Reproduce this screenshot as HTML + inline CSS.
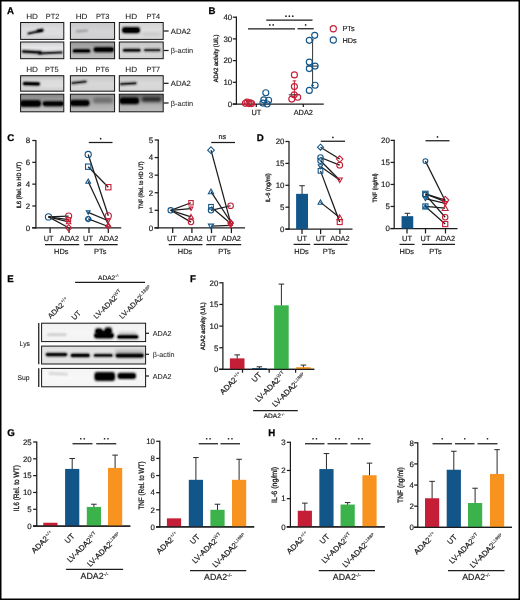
<!DOCTYPE html>
<html>
<head>
<meta charset="utf-8">
<title>Figure</title>
<style>
html, body { margin: 0; padding: 0; background: #ffffff; }
body { width: 520px; height: 600px; overflow: hidden; font-family: "Liberation Sans", sans-serif; }
svg { display: block; will-change: transform; opacity: 0.999; }
text { text-rendering: geometricPrecision; }
</style>
</head>
<body>
<svg width="520" height="600" viewBox="0 0 520 600" font-family="Liberation Sans, sans-serif">
<defs>
<filter id="b0" x="-30%" y="-200%" width="160%" height="500%"><feGaussianBlur stdDeviation="0.6"/></filter>
<filter id="b1" x="-30%" y="-200%" width="160%" height="500%"><feGaussianBlur stdDeviation="1.0"/></filter>
<filter id="b2" x="-30%" y="-200%" width="160%" height="500%"><feGaussianBlur stdDeviation="1.5"/></filter>
<filter id="b3" x="-30%" y="-200%" width="160%" height="500%"><feGaussianBlur stdDeviation="2.2"/></filter>
</defs>
<rect x="0" y="0" width="520" height="600" fill="#ffffff"/>
<text transform="translate(7,14.4)" font-size="9.7" text-anchor="start" font-weight="bold" fill="#000"  stroke="#000" stroke-width="0.25">A</text>
<text transform="translate(26.2,19.2)" font-size="7.6" text-anchor="start" font-weight="normal" fill="#1c1c1c"  textLength="11.8" lengthAdjust="spacingAndGlyphs" stroke="#1c1c1c" stroke-width="0.08">HD</text>
<text transform="translate(45.8,19.2)" font-size="7.6" text-anchor="start" font-weight="normal" fill="#1c1c1c"  textLength="13.5" lengthAdjust="spacingAndGlyphs" stroke="#1c1c1c" stroke-width="0.08">PT2</text>
<text transform="translate(75.7,19.2)" font-size="7.6" text-anchor="start" font-weight="normal" fill="#1c1c1c"  textLength="11.8" lengthAdjust="spacingAndGlyphs" stroke="#1c1c1c" stroke-width="0.08">HD</text>
<text transform="translate(95.9,19.2)" font-size="7.6" text-anchor="start" font-weight="normal" fill="#1c1c1c"  textLength="13.5" lengthAdjust="spacingAndGlyphs" stroke="#1c1c1c" stroke-width="0.08">PT3</text>
<text transform="translate(125.3,19.2)" font-size="7.6" text-anchor="start" font-weight="normal" fill="#1c1c1c"  textLength="11.8" lengthAdjust="spacingAndGlyphs" stroke="#1c1c1c" stroke-width="0.08">HD</text>
<text transform="translate(146.5,19.2)" font-size="7.6" text-anchor="start" font-weight="normal" fill="#1c1c1c"  textLength="13.5" lengthAdjust="spacingAndGlyphs" stroke="#1c1c1c" stroke-width="0.08">PT4</text>
<text transform="translate(26.2,71.9)" font-size="7.6" text-anchor="start" font-weight="normal" fill="#1c1c1c"  textLength="11.8" lengthAdjust="spacingAndGlyphs" stroke="#1c1c1c" stroke-width="0.08">HD</text>
<text transform="translate(45,71.9)" font-size="7.6" text-anchor="start" font-weight="normal" fill="#1c1c1c"  textLength="13.5" lengthAdjust="spacingAndGlyphs" stroke="#1c1c1c" stroke-width="0.08">PT5</text>
<text transform="translate(75.7,71.9)" font-size="7.6" text-anchor="start" font-weight="normal" fill="#1c1c1c"  textLength="11.8" lengthAdjust="spacingAndGlyphs" stroke="#1c1c1c" stroke-width="0.08">HD</text>
<text transform="translate(95.5,71.9)" font-size="7.6" text-anchor="start" font-weight="normal" fill="#1c1c1c"  textLength="13.5" lengthAdjust="spacingAndGlyphs" stroke="#1c1c1c" stroke-width="0.08">PT6</text>
<text transform="translate(125.3,71.9)" font-size="7.6" text-anchor="start" font-weight="normal" fill="#1c1c1c"  textLength="11.8" lengthAdjust="spacingAndGlyphs" stroke="#1c1c1c" stroke-width="0.08">HD</text>
<text transform="translate(146.5,71.9)" font-size="7.6" text-anchor="start" font-weight="normal" fill="#1c1c1c"  textLength="13.5" lengthAdjust="spacingAndGlyphs" stroke="#1c1c1c" stroke-width="0.08">PT7</text>
<clipPath id="c1"><rect x="20.6" y="22.5" width="43.2" height="16.9"/></clipPath>
<linearGradient id="g1" x1="0" y1="0" x2="0" y2="1"><stop offset="0" stop-color="#cfcfd2"/><stop offset="0.33" stop-color="#dcdcde"/><stop offset="0.67" stop-color="#dedee0"/><stop offset="1" stop-color="#d2d2d4"/></linearGradient>
<rect x="20.6" y="22.5" width="43.2" height="16.9" fill="url(#g1)"/>
<g clip-path="url(#c1)">
<rect x="27" y="31.1" width="16.5" height="2" rx="1" fill="#000" opacity="0.85" filter="url(#b1)" transform="rotate(-12.31 35.25 32.1)"/>
<rect x="27.8" y="31.55" width="14.9" height="1.1" rx="0.55" fill="#000" opacity="0.68" filter="url(#b0)" transform="rotate(-12.31 35.25 32.1)"/>
<rect x="36.5" y="29.35" width="7.1" height="2.3" rx="1.15" fill="#000" opacity="0.9" filter="url(#b1)" transform="rotate(-9.59 40.05 30.5)"/>
<rect x="37.3" y="29.87" width="5.5" height="1.26" rx="0.63" fill="#000" opacity="0.72" filter="url(#b0)" transform="rotate(-9.59 40.05 30.5)"/>
</g>
<rect x="20.6" y="22.5" width="43.2" height="16.9" fill="none" stroke="#151515" stroke-width="1.0"/>
<clipPath id="c2"><rect x="70.4" y="22.5" width="44.2" height="16.9"/></clipPath>
<linearGradient id="g2" x1="0" y1="0" x2="0" y2="1"><stop offset="0" stop-color="#c8c8ca"/><stop offset="0.5" stop-color="#d4d4d6"/><stop offset="1" stop-color="#d0d0d2"/></linearGradient>
<rect x="70.4" y="22.5" width="44.2" height="16.9" fill="url(#g2)"/>
<g clip-path="url(#c2)">
<rect x="75.5" y="29.9" width="12.5" height="2" rx="1" fill="#000" opacity="0.3" filter="url(#b1)" transform="rotate(-4.57 81.75 30.9)"/>
</g>
<rect x="70.4" y="22.5" width="44.2" height="16.9" fill="none" stroke="#151515" stroke-width="1.0"/>
<clipPath id="c3"><rect x="119.3" y="22.5" width="43.9" height="16.9"/></clipPath>
<linearGradient id="g3" x1="0" y1="0" x2="0" y2="1"><stop offset="0" stop-color="#d4d4d4"/><stop offset="0.5" stop-color="#e0e0e0"/><stop offset="1" stop-color="#d6d6d6"/></linearGradient>
<rect x="119.3" y="22.5" width="43.9" height="16.9" fill="url(#g3)"/>
<g clip-path="url(#c3)">
<rect x="122" y="27.1" width="18" height="6.2" rx="2.4" fill="#000" opacity="1" filter="url(#b1)" transform="rotate(0 131 30.2)"/>
<rect x="122.8" y="28.49" width="16.4" height="3.41" rx="1.71" fill="#000" opacity="0.8" filter="url(#b0)" transform="rotate(0 131 30.2)"/>
<rect x="124" y="28.2" width="15" height="4" rx="2" fill="#000" opacity="1" filter="url(#b0)" transform="rotate(0 131.5 30.2)"/>
<rect x="142" y="31.8" width="19" height="4" rx="2" fill="#000" opacity="0.08" filter="url(#b2)" transform="rotate(0 151.5 33.8)"/>
</g>
<rect x="119.3" y="22.5" width="43.9" height="16.9" fill="none" stroke="#151515" stroke-width="1.0"/>
<clipPath id="c4"><rect x="20.6" y="42" width="43.2" height="16.7"/></clipPath>
<linearGradient id="g4" x1="0" y1="0" x2="0" y2="1"><stop offset="0" stop-color="#d0d0d2"/><stop offset="0.33" stop-color="#e6e6e8"/><stop offset="0.67" stop-color="#e4e4e6"/><stop offset="1" stop-color="#cacacc"/></linearGradient>
<rect x="20.6" y="42" width="43.2" height="16.7" fill="url(#g4)"/>
<g clip-path="url(#c4)">
<rect x="21.5" y="50.5" width="20.5" height="3" rx="1.5" fill="#000" opacity="0.9" filter="url(#b1)" transform="rotate(3.35 31.75 52)"/>
<rect x="22.3" y="51.17" width="18.9" height="1.65" rx="0.83" fill="#000" opacity="0.72" filter="url(#b0)" transform="rotate(3.35 31.75 52)"/>
<rect x="38" y="51.8" width="25" height="2.2" rx="1.1" fill="#000" opacity="0.85" filter="url(#b1)" transform="rotate(-2.29 50.5 52.9)"/>
<rect x="38.8" y="52.3" width="23.4" height="1.21" rx="0.61" fill="#000" opacity="0.68" filter="url(#b0)" transform="rotate(-2.29 50.5 52.9)"/>
</g>
<rect x="20.6" y="42" width="43.2" height="16.7" fill="none" stroke="#151515" stroke-width="1.0"/>
<clipPath id="c5"><rect x="70.4" y="42" width="44.2" height="16.7"/></clipPath>
<linearGradient id="g5" x1="0" y1="0" x2="0" y2="1"><stop offset="0" stop-color="#989898"/><stop offset="0.5" stop-color="#b2b2b2"/><stop offset="1" stop-color="#bebebe"/></linearGradient>
<rect x="70.4" y="42" width="44.2" height="16.7" fill="url(#g5)"/>
<g clip-path="url(#c5)">
<rect x="72.5" y="49" width="18" height="3.8" rx="1.9" fill="#000" opacity="0.95" filter="url(#b1)" transform="rotate(0 81.5 50.9)"/>
<rect x="73.3" y="49.85" width="16.4" height="2.09" rx="1.04" fill="#000" opacity="0.76" filter="url(#b0)" transform="rotate(0 81.5 50.9)"/>
<rect x="93.5" y="46.9" width="20.5" height="5.4" rx="2.4" fill="#000" opacity="1" filter="url(#b1)" transform="rotate(0 103.75 49.6)"/>
<rect x="94.3" y="48.12" width="18.9" height="2.97" rx="1.49" fill="#000" opacity="0.8" filter="url(#b0)" transform="rotate(0 103.75 49.6)"/>
</g>
<rect x="70.4" y="42" width="44.2" height="16.7" fill="none" stroke="#151515" stroke-width="1.0"/>
<clipPath id="c6"><rect x="119.3" y="42" width="43.9" height="16.7"/></clipPath>
<linearGradient id="g6" x1="0" y1="0" x2="0" y2="1"><stop offset="0" stop-color="#c4c4c4"/><stop offset="0.5" stop-color="#dadada"/><stop offset="1" stop-color="#d0d0d0"/></linearGradient>
<rect x="119.3" y="42" width="43.9" height="16.7" fill="url(#g6)"/>
<g clip-path="url(#c6)">
<rect x="122.5" y="48.5" width="18.5" height="3.6" rx="1.8" fill="#000" opacity="0.8" filter="url(#b1)" transform="rotate(0 131.75 50.3)"/>
<rect x="123.3" y="49.31" width="16.9" height="1.98" rx="0.99" fill="#000" opacity="0.64" filter="url(#b0)" transform="rotate(0 131.75 50.3)"/>
<rect x="143.5" y="48.5" width="17.5" height="3.2" rx="1.6" fill="#000" opacity="0.62" filter="url(#b1)" transform="rotate(0 152.25 50.1)"/>
<rect x="144.3" y="49.22" width="15.9" height="1.76" rx="0.88" fill="#000" opacity="0.5" filter="url(#b0)" transform="rotate(0 152.25 50.1)"/>
</g>
<rect x="119.3" y="42" width="43.9" height="16.7" fill="none" stroke="#151515" stroke-width="1.0"/>
<clipPath id="c7"><rect x="20.6" y="75.7" width="43.2" height="15.5"/></clipPath>
<linearGradient id="g7" x1="0" y1="0" x2="0" y2="1"><stop offset="0" stop-color="#bcbcbc"/><stop offset="0.33" stop-color="#dcdcdc"/><stop offset="0.67" stop-color="#dedede"/><stop offset="1" stop-color="#cccccc"/></linearGradient>
<rect x="20.6" y="75.7" width="43.2" height="15.5" fill="url(#g7)"/>
<g clip-path="url(#c7)">
<rect x="22.6" y="82" width="17.6" height="3.6" rx="1.8" fill="#000" opacity="1" filter="url(#b1)" transform="rotate(1.63 31.4 83.8)"/>
<rect x="23.4" y="82.81" width="16" height="1.98" rx="0.99" fill="#000" opacity="0.8" filter="url(#b0)" transform="rotate(1.63 31.4 83.8)"/>
</g>
<rect x="20.6" y="75.7" width="43.2" height="15.5" fill="none" stroke="#151515" stroke-width="1.0"/>
<clipPath id="c8"><rect x="70.4" y="75.7" width="44.2" height="15.5"/></clipPath>
<linearGradient id="g8" x1="0" y1="0" x2="0" y2="1"><stop offset="0" stop-color="#c6c6c6"/><stop offset="0.5" stop-color="#d8d8d8"/><stop offset="1" stop-color="#d2d2d2"/></linearGradient>
<rect x="70.4" y="75.7" width="44.2" height="15.5" fill="url(#g8)"/>
<g clip-path="url(#c8)">
<rect x="71" y="81.3" width="16" height="2.2" rx="1.1" fill="#000" opacity="0.8" filter="url(#b1)" transform="rotate(-6.42 79 82.4)"/>
<rect x="71.8" y="81.8" width="14.4" height="1.21" rx="0.61" fill="#000" opacity="0.64" filter="url(#b0)" transform="rotate(-6.42 79 82.4)"/>
</g>
<rect x="70.4" y="75.7" width="44.2" height="15.5" fill="none" stroke="#151515" stroke-width="1.0"/>
<clipPath id="c9"><rect x="119.3" y="75.7" width="43.9" height="15.5"/></clipPath>
<linearGradient id="g9" x1="0" y1="0" x2="0" y2="1"><stop offset="0" stop-color="#c8c8c8"/><stop offset="0.5" stop-color="#dadada"/><stop offset="1" stop-color="#d4d4d4"/></linearGradient>
<rect x="119.3" y="75.7" width="43.9" height="15.5" fill="url(#g9)"/>
<g clip-path="url(#c9)">
<rect x="119.5" y="82.4" width="17.5" height="2.4" rx="1.2" fill="#000" opacity="0.85" filter="url(#b1)" transform="rotate(-3.27 128.25 83.6)"/>
<rect x="120.3" y="82.94" width="15.9" height="1.32" rx="0.66" fill="#000" opacity="0.68" filter="url(#b0)" transform="rotate(-3.27 128.25 83.6)"/>
</g>
<rect x="119.3" y="75.7" width="43.9" height="15.5" fill="none" stroke="#151515" stroke-width="1.0"/>
<clipPath id="c10"><rect x="20.6" y="94.2" width="43.2" height="17.6"/></clipPath>
<linearGradient id="g10" x1="0" y1="0" x2="0" y2="1"><stop offset="0" stop-color="#858585"/><stop offset="0.33" stop-color="#9c9c9c"/><stop offset="0.67" stop-color="#bcbcbc"/><stop offset="1" stop-color="#c2c2c2"/></linearGradient>
<rect x="20.6" y="94.2" width="43.2" height="17.6" fill="url(#g10)"/>
<g clip-path="url(#c10)">
<rect x="20" y="100.1" width="21" height="7" rx="2.4" fill="#000" opacity="1" filter="url(#b1)" transform="rotate(0 30.5 103.6)"/>
<rect x="20.8" y="101.67" width="19.4" height="3.85" rx="1.93" fill="#000" opacity="0.8" filter="url(#b0)" transform="rotate(0 30.5 103.6)"/>
<rect x="42.5" y="101.1" width="21.5" height="5.4" rx="2.4" fill="#000" opacity="0.95" filter="url(#b1)" transform="rotate(0 53.25 103.8)"/>
<rect x="43.3" y="102.31" width="19.9" height="2.97" rx="1.49" fill="#000" opacity="0.76" filter="url(#b0)" transform="rotate(0 53.25 103.8)"/>
</g>
<rect x="20.6" y="94.2" width="43.2" height="17.6" fill="none" stroke="#151515" stroke-width="1.0"/>
<clipPath id="c11"><rect x="70.4" y="94.2" width="44.2" height="17.6"/></clipPath>
<linearGradient id="g11" x1="0" y1="0" x2="0" y2="1"><stop offset="0" stop-color="#929292"/><stop offset="0.5" stop-color="#aaaaaa"/><stop offset="1" stop-color="#bcbcbc"/></linearGradient>
<rect x="70.4" y="94.2" width="44.2" height="17.6" fill="url(#g11)"/>
<g clip-path="url(#c11)">
<rect x="70" y="99.7" width="19.5" height="6.6" rx="2.4" fill="#000" opacity="1" filter="url(#b1)" transform="rotate(0 79.75 103)"/>
<rect x="70.8" y="101.19" width="17.9" height="3.63" rx="1.81" fill="#000" opacity="0.8" filter="url(#b0)" transform="rotate(0 79.75 103)"/>
<rect x="93" y="97.85" width="20" height="5.5" rx="2.4" fill="#000" opacity="0.32" filter="url(#b2)" transform="rotate(0 103 100.6)"/>
</g>
<rect x="70.4" y="94.2" width="44.2" height="17.6" fill="none" stroke="#151515" stroke-width="1.0"/>
<clipPath id="c12"><rect x="119.3" y="94.2" width="43.9" height="17.6"/></clipPath>
<linearGradient id="g12" x1="0" y1="0" x2="0" y2="1"><stop offset="0" stop-color="#646464"/><stop offset="0.33" stop-color="#929292"/><stop offset="0.67" stop-color="#b4b4b4"/><stop offset="1" stop-color="#bcbcbc"/></linearGradient>
<rect x="119.3" y="94.2" width="43.9" height="17.6" fill="url(#g12)"/>
<g clip-path="url(#c12)">
<rect x="119.5" y="97.3" width="19.5" height="7" rx="2.4" fill="#000" opacity="1" filter="url(#b1)" transform="rotate(0 129.25 100.8)"/>
<rect x="120.3" y="98.88" width="17.9" height="3.85" rx="1.93" fill="#000" opacity="0.8" filter="url(#b0)" transform="rotate(0 129.25 100.8)"/>
<rect x="141.5" y="97.1" width="20" height="4.6" rx="2.3" fill="#000" opacity="0.72" filter="url(#b2)" transform="rotate(0 151.5 99.4)"/>
</g>
<rect x="119.3" y="94.2" width="43.9" height="17.6" fill="none" stroke="#151515" stroke-width="1.0"/>
<line x1="163.75" y1="31" x2="168.6" y2="31" stroke="#1c1c1c" stroke-width="1.25" />
<text transform="translate(170.8,33.75)" font-size="7.7" text-anchor="start" font-weight="normal" fill="#1c1c1c"  stroke="#1c1c1c" stroke-width="0.1">ADA2</text>
<line x1="163.75" y1="50.5" x2="168.6" y2="50.5" stroke="#1c1c1c" stroke-width="1.25" />
<text transform="translate(170.8,53.25)" font-size="7.3" text-anchor="start" font-weight="normal" fill="#333"  textLength="22.4" lengthAdjust="spacingAndGlyphs" stroke="#333" stroke-width="0.08">β-actin</text>
<line x1="163.75" y1="83.3" x2="168.6" y2="83.3" stroke="#1c1c1c" stroke-width="1.25" />
<text transform="translate(170.8,86.05)" font-size="7.7" text-anchor="start" font-weight="normal" fill="#1c1c1c"  stroke="#1c1c1c" stroke-width="0.1">ADA2</text>
<line x1="163.75" y1="103" x2="168.6" y2="103" stroke="#1c1c1c" stroke-width="1.25" />
<text transform="translate(170.8,105.75)" font-size="7.3" text-anchor="start" font-weight="normal" fill="#333"  textLength="22.4" lengthAdjust="spacingAndGlyphs" stroke="#333" stroke-width="0.08">β-actin</text>
<text transform="translate(208.6,14.2)" font-size="9.7" text-anchor="start" font-weight="bold" fill="#000"  stroke="#000" stroke-width="0.25">B</text>
<line x1="236.4" y1="16.57" x2="236.4" y2="104.62" stroke="#1c1c1c" stroke-width="1.25" />
<line x1="232.6" y1="104" x2="323.75" y2="104" stroke="#1c1c1c" stroke-width="1.25" />
<line x1="232.8" y1="104" x2="236.4" y2="104" stroke="#1c1c1c" stroke-width="1.25" />
<text transform="translate(232.2,106.8)" font-size="7.9" text-anchor="end" font-weight="normal" fill="#1c1c1c"  stroke="#1c1c1c" stroke-width="0.18">0</text>
<line x1="232.8" y1="82.3" x2="236.4" y2="82.3" stroke="#1c1c1c" stroke-width="1.25" />
<text transform="translate(232.2,85.1)" font-size="7.9" text-anchor="end" font-weight="normal" fill="#1c1c1c"  stroke="#1c1c1c" stroke-width="0.18">10</text>
<line x1="232.8" y1="60.6" x2="236.4" y2="60.6" stroke="#1c1c1c" stroke-width="1.25" />
<text transform="translate(232.2,63.4)" font-size="7.9" text-anchor="end" font-weight="normal" fill="#1c1c1c"  stroke="#1c1c1c" stroke-width="0.18">20</text>
<line x1="232.8" y1="38.9" x2="236.4" y2="38.9" stroke="#1c1c1c" stroke-width="1.25" />
<text transform="translate(232.2,41.7)" font-size="7.9" text-anchor="end" font-weight="normal" fill="#1c1c1c"  stroke="#1c1c1c" stroke-width="0.18">30</text>
<line x1="232.8" y1="17.2" x2="236.4" y2="17.2" stroke="#1c1c1c" stroke-width="1.25" />
<text transform="translate(232.2,20)" font-size="7.9" text-anchor="end" font-weight="normal" fill="#1c1c1c"  stroke="#1c1c1c" stroke-width="0.18">40</text>
<line x1="256.3" y1="104" x2="256.3" y2="107" stroke="#1c1c1c" stroke-width="1.25" />
<line x1="303.3" y1="104" x2="303.3" y2="107" stroke="#1c1c1c" stroke-width="1.25" />
<text transform="translate(256.4,114.7)" font-size="7.4" text-anchor="middle" font-weight="normal" fill="#1c1c1c"  stroke="#1c1c1c" stroke-width="0.18">UT</text>
<text transform="translate(303.3,114.7)" font-size="7.4" text-anchor="middle" font-weight="normal" fill="#1c1c1c"  stroke="#1c1c1c" stroke-width="0.18">ADA2</text>
<text transform="translate(218.06,82.35) rotate(-90)" font-size="6.2" text-anchor="start" font-weight="normal" fill="#1c1c1c"  textLength="47.7" lengthAdjust="spacingAndGlyphs" stroke="#1c1c1c" stroke-width="0.3">ADA2 activity (U/L)</text>
<line x1="266.25" y1="20" x2="312.5" y2="20" stroke="#1c1c1c" stroke-width="1.25" />
<circle cx="285.98" cy="16.2" r="0.85" fill="#1c1c1c"/>
<circle cx="289.38" cy="16.2" r="0.85" fill="#1c1c1c"/>
<circle cx="292.77" cy="16.2" r="0.85" fill="#1c1c1c"/>
<line x1="248" y1="28.75" x2="295" y2="28.75" stroke="#1c1c1c" stroke-width="1.25" />
<circle cx="269.8" cy="24.95" r="0.85" fill="#1c1c1c"/>
<circle cx="273.2" cy="24.95" r="0.85" fill="#1c1c1c"/>
<line x1="297.5" y1="28.75" x2="313.75" y2="28.75" stroke="#1c1c1c" stroke-width="1.25" />
<circle cx="305.62" cy="24.95" r="0.85" fill="#1c1c1c"/>
<line x1="294.4" y1="80.9" x2="294.4" y2="97" stroke="#c51f37" stroke-width="1.0" />
<line x1="292.6" y1="80.9" x2="296.2" y2="80.9" stroke="#c51f37" stroke-width="1.0" />
<line x1="288.8" y1="94.8" x2="300" y2="94.8" stroke="#333" stroke-width="1.1" />
<line x1="312.6" y1="39.9" x2="312.6" y2="85.6" stroke="#333" stroke-width="1.0" />
<line x1="311.3" y1="39.9" x2="313.9" y2="39.9" stroke="#333" stroke-width="1.0" />
<line x1="311.3" y1="85.6" x2="313.9" y2="85.6" stroke="#333" stroke-width="1.0" />
<line x1="306.6" y1="66.1" x2="318.2" y2="66.1" stroke="#333" stroke-width="1.1" />
<circle cx="245.4" cy="103.3" r="3.0" fill="none" stroke="#c51f37" stroke-width="1.15"/>
<circle cx="247.1" cy="102.1" r="3.0" fill="none" stroke="#c51f37" stroke-width="1.15"/>
<circle cx="248.9" cy="103.6" r="3.0" fill="none" stroke="#c51f37" stroke-width="1.15"/>
<circle cx="250.4" cy="102.7" r="3.0" fill="none" stroke="#c51f37" stroke-width="1.15"/>
<circle cx="251.6" cy="103.6" r="3.0" fill="none" stroke="#c51f37" stroke-width="1.15"/>
<circle cx="265.8" cy="92.7" r="3.0" fill="none" stroke="#125589" stroke-width="1.15"/>
<circle cx="263.8" cy="99.8" r="3.0" fill="none" stroke="#125589" stroke-width="1.15"/>
<circle cx="268.6" cy="100.2" r="3.0" fill="none" stroke="#125589" stroke-width="1.15"/>
<circle cx="262.9" cy="103.1" r="3.0" fill="none" stroke="#125589" stroke-width="1.15"/>
<circle cx="267.1" cy="104" r="3.0" fill="none" stroke="#125589" stroke-width="1.15"/>
<circle cx="294.4" cy="74.9" r="3.0" fill="none" stroke="#c51f37" stroke-width="1.15"/>
<circle cx="294.4" cy="86.6" r="3.0" fill="none" stroke="#c51f37" stroke-width="1.15"/>
<circle cx="294.2" cy="94.8" r="3.0" fill="none" stroke="#c51f37" stroke-width="1.15"/>
<circle cx="297.7" cy="97.2" r="3.0" fill="none" stroke="#c51f37" stroke-width="1.15"/>
<circle cx="291.8" cy="99.1" r="3.0" fill="none" stroke="#c51f37" stroke-width="1.15"/>
<circle cx="314.7" cy="35.3" r="3.0" fill="none" stroke="#125589" stroke-width="1.15"/>
<circle cx="309.3" cy="40.3" r="3.0" fill="none" stroke="#125589" stroke-width="1.15"/>
<circle cx="309.3" cy="62.1" r="3.0" fill="none" stroke="#125589" stroke-width="1.15"/>
<circle cx="315.1" cy="66.1" r="3.0" fill="none" stroke="#125589" stroke-width="1.15"/>
<circle cx="309.3" cy="68.6" r="3.0" fill="none" stroke="#125589" stroke-width="1.15"/>
<circle cx="315.1" cy="85.2" r="3.0" fill="none" stroke="#125589" stroke-width="1.15"/>
<circle cx="309.3" cy="90.4" r="3.0" fill="none" stroke="#125589" stroke-width="1.15"/>
<circle cx="333.3" cy="28.8" r="3.1" fill="none" stroke="#c51f37" stroke-width="1.15"/>
<circle cx="333.3" cy="40" r="3.1" fill="none" stroke="#125589" stroke-width="1.15"/>
<text transform="translate(342.5,31.4)" font-size="7.3" text-anchor="start" font-weight="normal" fill="#1c1c1c"  stroke="#1c1c1c" stroke-width="0.18">PTs</text>
<text transform="translate(342.5,42.7)" font-size="7.3" text-anchor="start" font-weight="normal" fill="#1c1c1c"  stroke="#1c1c1c" stroke-width="0.18">HDs</text>
<text transform="translate(7.2,140.6)" font-size="9.7" text-anchor="start" font-weight="bold" fill="#000"  stroke="#000" stroke-width="0.25">C</text>
<line x1="35.9" y1="139.88" x2="35.9" y2="228.43" stroke="#1c1c1c" stroke-width="1.25" />
<line x1="32" y1="227.8" x2="121.25" y2="227.8" stroke="#1c1c1c" stroke-width="1.25" />
<line x1="32.3" y1="227.8" x2="35.9" y2="227.8" stroke="#1c1c1c" stroke-width="1.25" />
<text transform="translate(30.1,230.6)" font-size="7.9" text-anchor="end" font-weight="normal" fill="#1c1c1c"  stroke="#1c1c1c" stroke-width="0.18">0</text>
<line x1="32.3" y1="205.98" x2="35.9" y2="205.98" stroke="#1c1c1c" stroke-width="1.25" />
<text transform="translate(30.1,208.78)" font-size="7.9" text-anchor="end" font-weight="normal" fill="#1c1c1c"  stroke="#1c1c1c" stroke-width="0.18">2</text>
<line x1="32.3" y1="184.15" x2="35.9" y2="184.15" stroke="#1c1c1c" stroke-width="1.25" />
<text transform="translate(30.1,186.95)" font-size="7.9" text-anchor="end" font-weight="normal" fill="#1c1c1c"  stroke="#1c1c1c" stroke-width="0.18">4</text>
<line x1="32.3" y1="162.32" x2="35.9" y2="162.32" stroke="#1c1c1c" stroke-width="1.25" />
<text transform="translate(30.1,165.13)" font-size="7.9" text-anchor="end" font-weight="normal" fill="#1c1c1c"  stroke="#1c1c1c" stroke-width="0.18">6</text>
<line x1="32.3" y1="140.5" x2="35.9" y2="140.5" stroke="#1c1c1c" stroke-width="1.25" />
<text transform="translate(30.1,143.3)" font-size="7.9" text-anchor="end" font-weight="normal" fill="#1c1c1c"  stroke="#1c1c1c" stroke-width="0.18">8</text>
<line x1="50.1" y1="227.8" x2="50.1" y2="233" stroke="#1c1c1c" stroke-width="1.25" />
<line x1="69.1" y1="227.8" x2="69.1" y2="233" stroke="#1c1c1c" stroke-width="1.25" />
<line x1="89" y1="227.8" x2="89" y2="233" stroke="#1c1c1c" stroke-width="1.25" />
<line x1="108.3" y1="227.8" x2="108.3" y2="233" stroke="#1c1c1c" stroke-width="1.25" />
<text transform="translate(48.6,241.2)" font-size="7.4" text-anchor="middle" font-weight="normal" fill="#1c1c1c"  stroke="#1c1c1c" stroke-width="0.18">UT</text>
<text transform="translate(69.4,241.2)" font-size="7.4" text-anchor="middle" font-weight="normal" fill="#1c1c1c"  stroke="#1c1c1c" stroke-width="0.18">ADA2</text>
<text transform="translate(88,241.2)" font-size="7.4" text-anchor="middle" font-weight="normal" fill="#1c1c1c"  stroke="#1c1c1c" stroke-width="0.18">UT</text>
<text transform="translate(108.6,241.2)" font-size="7.4" text-anchor="middle" font-weight="normal" fill="#1c1c1c"  stroke="#1c1c1c" stroke-width="0.18">ADA2</text>
<line x1="45" y1="244.6" x2="79.2" y2="244.6" stroke="#1c1c1c" stroke-width="1.25" />
<line x1="84.2" y1="244.6" x2="117.7" y2="244.6" stroke="#1c1c1c" stroke-width="1.25" />
<text transform="translate(61.3,254.4)" font-size="7.4" text-anchor="middle" font-weight="normal" fill="#1c1c1c"  stroke="#1c1c1c" stroke-width="0.18">HDs</text>
<text transform="translate(100.2,254.4)" font-size="7.4" text-anchor="middle" font-weight="normal" fill="#1c1c1c"  stroke="#1c1c1c" stroke-width="0.18">PTs</text>
<text transform="translate(21.46,208.4) rotate(-90)" font-size="6.2" text-anchor="start" font-weight="normal" fill="#1c1c1c"  textLength="46.4" lengthAdjust="spacingAndGlyphs" stroke="#1c1c1c" stroke-width="0.3">IL6 (Rel. to HD UT)</text>
<line x1="88.75" y1="142.5" x2="112.5" y2="142.5" stroke="#1c1c1c" stroke-width="1.25" />
<circle cx="100.62" cy="138.7" r="0.85" fill="#1c1c1c"/>
<line x1="48.5" y1="216.89" x2="68.6" y2="216.12" stroke="#1c1c1c" stroke-width="1.25" />
<line x1="48.5" y1="216.89" x2="68.6" y2="219.62" stroke="#1c1c1c" stroke-width="1.25" />
<line x1="48.5" y1="216.89" x2="68.6" y2="221.91" stroke="#1c1c1c" stroke-width="1.25" />
<line x1="48.5" y1="216.89" x2="68.6" y2="227.8" stroke="#1c1c1c" stroke-width="1.25" />
<circle cx="68.6" cy="216.12" r="3.1" fill="none" stroke="#c51f37" stroke-width="1.1"/>
<rect x="66.6" y="217.62" width="4" height="4" fill="none" stroke="#c51f37" stroke-width="1.1"/>
<path d="M68.6 219.63 L70.88 223.68 L66.32 223.68 Z" fill="none" stroke="#c51f37" stroke-width="1.1" stroke-linejoin="miter"/>
<path d="M68.6 224.68 L71.72 227.8 L68.6 230.92 L65.48 227.8 Z" fill="none" stroke="#c51f37" stroke-width="1.1"/>
<circle cx="48.5" cy="216.89" r="3.1" fill="none" stroke="#125589" stroke-width="1.1"/>
<line x1="88.2" y1="154.47" x2="108.3" y2="215.8" stroke="#1c1c1c" stroke-width="1.25" />
<line x1="88.2" y1="166.69" x2="108.3" y2="187.21" stroke="#1c1c1c" stroke-width="1.25" />
<line x1="88.2" y1="181.42" x2="108.3" y2="224.53" stroke="#1c1c1c" stroke-width="1.25" />
<line x1="88.2" y1="212.3" x2="108.3" y2="220.71" stroke="#1c1c1c" stroke-width="1.25" />
<line x1="88.2" y1="218.96" x2="108.3" y2="226.49" stroke="#1c1c1c" stroke-width="1.25" />
<circle cx="88.2" cy="154.47" r="3.1" fill="none" stroke="#125589" stroke-width="1.1"/>
<circle cx="108.3" cy="215.8" r="3.1" fill="none" stroke="#c51f37" stroke-width="1.1"/>
<rect x="85.53" y="164.02" width="5.33" height="5.33" fill="none" stroke="#125589" stroke-width="1.1"/>
<rect x="105.63" y="184.54" width="5.33" height="5.33" fill="none" stroke="#c51f37" stroke-width="1.1"/>
<path d="M88.2 179.05 L90.57 183.27 L85.83 183.27 Z" fill="none" stroke="#125589" stroke-width="1.1" stroke-linejoin="miter"/>
<path d="M108.3 222.4 L110.43 226.18 L106.17 226.18 Z" fill="none" stroke="#c51f37" stroke-width="1.1" stroke-linejoin="miter"/>
<path d="M88.2 214.19 L90.08 210.84 L86.32 210.84 Z" fill="none" stroke="#125589" stroke-width="1.1" stroke-linejoin="miter"/>
<path d="M108.3 222.68 L110.27 219.17 L106.33 219.17 Z" fill="none" stroke="#c51f37" stroke-width="1.1" stroke-linejoin="miter"/>
<path d="M88.2 216.18 L90.98 218.96 L88.2 221.74 L85.42 218.96 Z" fill="none" stroke="#125589" stroke-width="1.1"/>
<path d="M108.3 224.06 L110.73 226.49 L108.3 228.92 L105.87 226.49 Z" fill="none" stroke="#c51f37" stroke-width="1.1"/>
<circle cx="88.2" cy="218.96" r="2.5" fill="none" stroke="#125589" stroke-width="1.1"/>
<line x1="158.25" y1="139.38" x2="158.25" y2="228.53" stroke="#1c1c1c" stroke-width="1.25" />
<line x1="154.4" y1="227.9" x2="245" y2="227.9" stroke="#1c1c1c" stroke-width="1.25" />
<line x1="154.65" y1="227.9" x2="158.25" y2="227.9" stroke="#1c1c1c" stroke-width="1.25" />
<text transform="translate(153.15,230.7)" font-size="7.9" text-anchor="end" font-weight="normal" fill="#1c1c1c"  stroke="#1c1c1c" stroke-width="0.18">0</text>
<line x1="154.65" y1="210.32" x2="158.25" y2="210.32" stroke="#1c1c1c" stroke-width="1.25" />
<text transform="translate(153.15,213.12)" font-size="7.9" text-anchor="end" font-weight="normal" fill="#1c1c1c"  stroke="#1c1c1c" stroke-width="0.18">1</text>
<line x1="154.65" y1="192.74" x2="158.25" y2="192.74" stroke="#1c1c1c" stroke-width="1.25" />
<text transform="translate(153.15,195.54)" font-size="7.9" text-anchor="end" font-weight="normal" fill="#1c1c1c"  stroke="#1c1c1c" stroke-width="0.18">2</text>
<line x1="154.65" y1="175.16" x2="158.25" y2="175.16" stroke="#1c1c1c" stroke-width="1.25" />
<text transform="translate(153.15,177.96)" font-size="7.9" text-anchor="end" font-weight="normal" fill="#1c1c1c"  stroke="#1c1c1c" stroke-width="0.18">3</text>
<line x1="154.65" y1="157.58" x2="158.25" y2="157.58" stroke="#1c1c1c" stroke-width="1.25" />
<text transform="translate(153.15,160.38)" font-size="7.9" text-anchor="end" font-weight="normal" fill="#1c1c1c"  stroke="#1c1c1c" stroke-width="0.18">4</text>
<line x1="154.65" y1="140" x2="158.25" y2="140" stroke="#1c1c1c" stroke-width="1.25" />
<text transform="translate(153.15,142.8)" font-size="7.9" text-anchor="end" font-weight="normal" fill="#1c1c1c"  stroke="#1c1c1c" stroke-width="0.18">5</text>
<line x1="172.7" y1="227.9" x2="172.7" y2="233.1" stroke="#1c1c1c" stroke-width="1.25" />
<line x1="191.9" y1="227.9" x2="191.9" y2="233.1" stroke="#1c1c1c" stroke-width="1.25" />
<line x1="211.5" y1="227.9" x2="211.5" y2="233.1" stroke="#1c1c1c" stroke-width="1.25" />
<line x1="231.4" y1="227.9" x2="231.4" y2="233.1" stroke="#1c1c1c" stroke-width="1.25" />
<text transform="translate(171.9,241.2)" font-size="7.4" text-anchor="middle" font-weight="normal" fill="#1c1c1c"  stroke="#1c1c1c" stroke-width="0.18">UT</text>
<text transform="translate(192.9,241.2)" font-size="7.4" text-anchor="middle" font-weight="normal" fill="#1c1c1c"  stroke="#1c1c1c" stroke-width="0.18">ADA2</text>
<text transform="translate(211.3,241.2)" font-size="7.4" text-anchor="middle" font-weight="normal" fill="#1c1c1c"  stroke="#1c1c1c" stroke-width="0.18">UT</text>
<text transform="translate(231.3,241.2)" font-size="7.4" text-anchor="middle" font-weight="normal" fill="#1c1c1c"  stroke="#1c1c1c" stroke-width="0.18">ADA2</text>
<line x1="168.75" y1="244.6" x2="202.5" y2="244.6" stroke="#1c1c1c" stroke-width="1.25" />
<line x1="206.25" y1="244.6" x2="241.25" y2="244.6" stroke="#1c1c1c" stroke-width="1.25" />
<text transform="translate(185,254.4)" font-size="7.4" text-anchor="middle" font-weight="normal" fill="#1c1c1c"  stroke="#1c1c1c" stroke-width="0.18">HDs</text>
<text transform="translate(224.5,254.4)" font-size="7.4" text-anchor="middle" font-weight="normal" fill="#1c1c1c"  stroke="#1c1c1c" stroke-width="0.18">PTs</text>
<text transform="translate(142.56,209) rotate(-90)" font-size="6.2" text-anchor="start" font-weight="normal" fill="#1c1c1c"  textLength="47.6" lengthAdjust="spacingAndGlyphs" stroke="#1c1c1c" stroke-width="0.3">TNF (Rel. to HD UT)</text>
<line x1="211.25" y1="142.5" x2="235" y2="142.5" stroke="#1c1c1c" stroke-width="1.25" />
<text transform="translate(222.32,139.3)" font-size="7.2" text-anchor="middle" font-weight="normal" fill="#1c1c1c"  stroke="#1c1c1c" stroke-width="0.18">ns</text>
<line x1="170.7" y1="210.32" x2="191" y2="202.76" stroke="#1c1c1c" stroke-width="1.25" />
<line x1="170.7" y1="210.32" x2="191" y2="208.56" stroke="#1c1c1c" stroke-width="1.25" />
<line x1="170.7" y1="210.32" x2="191" y2="216.82" stroke="#1c1c1c" stroke-width="1.25" />
<line x1="170.7" y1="210.32" x2="191" y2="222.1" stroke="#1c1c1c" stroke-width="1.25" />
<rect x="188.79" y="200.55" width="4.41" height="4.41" fill="none" stroke="#c51f37" stroke-width="1.1"/>
<path d="M191 210.41 L192.85 207.12 L189.15 207.12 Z" fill="none" stroke="#c51f37" stroke-width="1.1" stroke-linejoin="miter"/>
<path d="M191 214.44 L193.38 218.68 L188.62 218.68 Z" fill="none" stroke="#c51f37" stroke-width="1.1" stroke-linejoin="miter"/>
<circle cx="191" cy="222.1" r="2.7" fill="none" stroke="#c51f37" stroke-width="1.1"/>
<circle cx="170.7" cy="210.32" r="2.7" fill="none" stroke="#125589" stroke-width="1.1"/>
<line x1="211" y1="150.2" x2="230.6" y2="222.63" stroke="#1c1c1c" stroke-width="1.25" />
<line x1="211" y1="191.69" x2="230.6" y2="221.75" stroke="#1c1c1c" stroke-width="1.25" />
<line x1="211" y1="206.8" x2="230.6" y2="223.5" stroke="#1c1c1c" stroke-width="1.25" />
<line x1="211" y1="210.32" x2="230.6" y2="205.75" stroke="#1c1c1c" stroke-width="1.25" />
<line x1="211" y1="226.14" x2="230.6" y2="225.26" stroke="#1c1c1c" stroke-width="1.25" />
<path d="M211 146.87 L214.33 150.2 L211 153.52 L207.67 150.2 Z" fill="none" stroke="#125589" stroke-width="1.1"/>
<path d="M230.6 219.96 L233.27 222.63 L230.6 225.29 L227.93 222.63 Z" fill="none" stroke="#c51f37" stroke-width="1.1"/>
<path d="M211 189.04 L213.65 193.75 L208.35 193.75 Z" fill="none" stroke="#125589" stroke-width="1.1" stroke-linejoin="miter"/>
<path d="M230.6 219.55 L232.8 223.46 L228.4 223.46 Z" fill="none" stroke="#c51f37" stroke-width="1.1" stroke-linejoin="miter"/>
<rect x="208.68" y="204.48" width="4.64" height="4.64" fill="none" stroke="#125589" stroke-width="1.1"/>
<rect x="228.67" y="221.58" width="3.85" height="3.85" fill="none" stroke="#c51f37" stroke-width="1.1"/>
<circle cx="211" cy="210.32" r="2.7" fill="none" stroke="#125589" stroke-width="1.1"/>
<circle cx="230.6" cy="205.75" r="2.8" fill="none" stroke="#c51f37" stroke-width="1.1"/>
<path d="M211 228.79 L213.65 224.08 L208.35 224.08 Z" fill="none" stroke="#125589" stroke-width="1.1" stroke-linejoin="miter"/>
<path d="M230.6 227.46 L232.8 223.55 L228.4 223.55 Z" fill="none" stroke="#c51f37" stroke-width="1.1" stroke-linejoin="miter"/>
<text transform="translate(256.8,141)" font-size="9.7" text-anchor="start" font-weight="bold" fill="#000"  stroke="#000" stroke-width="0.25">D</text>
<line x1="289" y1="140.88" x2="289" y2="229.72" stroke="#1c1c1c" stroke-width="1.25" />
<line x1="285.4" y1="229.1" x2="352.5" y2="229.1" stroke="#1c1c1c" stroke-width="1.25" />
<line x1="285.4" y1="229.1" x2="289" y2="229.1" stroke="#1c1c1c" stroke-width="1.25" />
<text transform="translate(284.5,231.9)" font-size="7.9" text-anchor="end" font-weight="normal" fill="#1c1c1c"  stroke="#1c1c1c" stroke-width="0.18">0</text>
<line x1="285.4" y1="207.2" x2="289" y2="207.2" stroke="#1c1c1c" stroke-width="1.25" />
<text transform="translate(284.5,210)" font-size="7.9" text-anchor="end" font-weight="normal" fill="#1c1c1c"  stroke="#1c1c1c" stroke-width="0.18">5</text>
<line x1="285.4" y1="185.3" x2="289" y2="185.3" stroke="#1c1c1c" stroke-width="1.25" />
<text transform="translate(284.5,188.1)" font-size="7.9" text-anchor="end" font-weight="normal" fill="#1c1c1c"  stroke="#1c1c1c" stroke-width="0.18">10</text>
<line x1="285.4" y1="163.4" x2="289" y2="163.4" stroke="#1c1c1c" stroke-width="1.25" />
<text transform="translate(284.5,166.2)" font-size="7.9" text-anchor="end" font-weight="normal" fill="#1c1c1c"  stroke="#1c1c1c" stroke-width="0.18">15</text>
<line x1="285.4" y1="141.5" x2="289" y2="141.5" stroke="#1c1c1c" stroke-width="1.25" />
<text transform="translate(284.5,144.3)" font-size="7.9" text-anchor="end" font-weight="normal" fill="#1c1c1c"  stroke="#1c1c1c" stroke-width="0.18">20</text>
<line x1="302" y1="229.1" x2="302" y2="234.1" stroke="#1c1c1c" stroke-width="1.25" />
<line x1="320.6" y1="229.1" x2="320.6" y2="234.1" stroke="#1c1c1c" stroke-width="1.25" />
<line x1="339.9" y1="229.1" x2="339.9" y2="234.1" stroke="#1c1c1c" stroke-width="1.25" />
<text transform="translate(302,241.4)" font-size="7.4" text-anchor="middle" font-weight="normal" fill="#1c1c1c"  stroke="#1c1c1c" stroke-width="0.18">UT</text>
<text transform="translate(320.6,241.4)" font-size="7.4" text-anchor="middle" font-weight="normal" fill="#1c1c1c"  stroke="#1c1c1c" stroke-width="0.18">UT</text>
<text transform="translate(339.9,241.4)" font-size="7.4" text-anchor="middle" font-weight="normal" fill="#1c1c1c"  stroke="#1c1c1c" stroke-width="0.18">ADA2</text>
<line x1="293.6" y1="244.4" x2="310.2" y2="244.4" stroke="#1c1c1c" stroke-width="1.25" />
<line x1="313.75" y1="244.4" x2="347.5" y2="244.4" stroke="#1c1c1c" stroke-width="1.25" />
<text transform="translate(301.5,254.4)" font-size="7.4" text-anchor="middle" font-weight="normal" fill="#1c1c1c"  stroke="#1c1c1c" stroke-width="0.18">HDs</text>
<text transform="translate(329,254.4)" font-size="7.4" text-anchor="middle" font-weight="normal" fill="#1c1c1c"  stroke="#1c1c1c" stroke-width="0.18">PTs</text>
<text transform="translate(269.86,202.5) rotate(-90)" font-size="6.2" text-anchor="start" font-weight="normal" fill="#1c1c1c"  textLength="29.2" lengthAdjust="spacingAndGlyphs" stroke="#1c1c1c" stroke-width="0.3">IL-6 (ng/ml)</text>
<line x1="320.75" y1="141.25" x2="345" y2="141.25" stroke="#1c1c1c" stroke-width="1.25" />
<circle cx="332.88" cy="137.45" r="0.85" fill="#1c1c1c"/>
<line x1="302.05" y1="185.74" x2="302.05" y2="194.34" stroke="#2a2a2a" stroke-width="1.0" />
<line x1="299.25" y1="185.74" x2="304.85" y2="185.74" stroke="#2a2a2a" stroke-width="1.0" />
<rect x="296.1" y="193.84" width="11.9" height="35.26" fill="#125589"/>
<line x1="320.5" y1="160.77" x2="339.7" y2="180.04" stroke="#1c1c1c" stroke-width="1.25" />
<line x1="320.5" y1="147.19" x2="339.7" y2="159.02" stroke="#1c1c1c" stroke-width="1.25" />
<line x1="320.5" y1="157.49" x2="339.7" y2="165.15" stroke="#1c1c1c" stroke-width="1.25" />
<line x1="320.5" y1="166.47" x2="339.7" y2="180.04" stroke="#1c1c1c" stroke-width="1.25" />
<line x1="320.5" y1="170.85" x2="339.7" y2="222.09" stroke="#1c1c1c" stroke-width="1.25" />
<line x1="320.5" y1="202.38" x2="339.7" y2="217.49" stroke="#1c1c1c" stroke-width="1.25" />
<path d="M320.5 144.17 L323.52 147.19 L320.5 150.22 L317.48 147.19 Z" fill="none" stroke="#125589" stroke-width="1.1"/>
<path d="M339.7 155.77 L342.95 159.02 L339.7 162.27 L336.45 159.02 Z" fill="none" stroke="#c51f37" stroke-width="1.1"/>
<circle cx="320.5" cy="157.49" r="2.7" fill="none" stroke="#125589" stroke-width="1.1"/>
<circle cx="339.7" cy="165.15" r="2.9" fill="none" stroke="#c51f37" stroke-width="1.1"/>
<path d="M320.5 168.72 L322.75 164.71 L318.25 164.71 Z" fill="none" stroke="#125589" stroke-width="1.1" stroke-linejoin="miter"/>
<path d="M339.7 182.6 L342.26 178.05 L337.14 178.05 Z" fill="none" stroke="#c51f37" stroke-width="1.1" stroke-linejoin="miter"/>
<rect x="318.18" y="168.52" width="4.64" height="4.64" fill="none" stroke="#125589" stroke-width="1.1"/>
<rect x="337.21" y="219.6" width="4.99" height="4.99" fill="none" stroke="#c51f37" stroke-width="1.1"/>
<path d="M320.5 199.95 L322.93 204.28 L318.07 204.28 Z" fill="none" stroke="#125589" stroke-width="1.1" stroke-linejoin="miter"/>
<path d="M339.7 214.79 L342.4 219.6 L337 219.6 Z" fill="none" stroke="#c51f37" stroke-width="1.1" stroke-linejoin="miter"/>
<circle cx="320.5" cy="160.77" r="2.7" fill="none" stroke="#125589" stroke-width="1.1"/>
<line x1="394.2" y1="139.78" x2="394.2" y2="229.12" stroke="#1c1c1c" stroke-width="1.25" />
<line x1="390.5" y1="228.5" x2="457.5" y2="228.5" stroke="#1c1c1c" stroke-width="1.25" />
<line x1="390.6" y1="228.5" x2="394.2" y2="228.5" stroke="#1c1c1c" stroke-width="1.25" />
<text transform="translate(389.9,231.3)" font-size="7.9" text-anchor="end" font-weight="normal" fill="#1c1c1c"  stroke="#1c1c1c" stroke-width="0.18">0</text>
<line x1="390.6" y1="206.47" x2="394.2" y2="206.47" stroke="#1c1c1c" stroke-width="1.25" />
<text transform="translate(389.9,209.28)" font-size="7.9" text-anchor="end" font-weight="normal" fill="#1c1c1c"  stroke="#1c1c1c" stroke-width="0.18">5</text>
<line x1="390.6" y1="184.45" x2="394.2" y2="184.45" stroke="#1c1c1c" stroke-width="1.25" />
<text transform="translate(389.9,187.25)" font-size="7.9" text-anchor="end" font-weight="normal" fill="#1c1c1c"  stroke="#1c1c1c" stroke-width="0.18">10</text>
<line x1="390.6" y1="162.43" x2="394.2" y2="162.43" stroke="#1c1c1c" stroke-width="1.25" />
<text transform="translate(389.9,165.23)" font-size="7.9" text-anchor="end" font-weight="normal" fill="#1c1c1c"  stroke="#1c1c1c" stroke-width="0.18">15</text>
<line x1="390.6" y1="140.4" x2="394.2" y2="140.4" stroke="#1c1c1c" stroke-width="1.25" />
<text transform="translate(389.9,143.2)" font-size="7.9" text-anchor="end" font-weight="normal" fill="#1c1c1c"  stroke="#1c1c1c" stroke-width="0.18">20</text>
<line x1="407" y1="228.5" x2="407" y2="233.5" stroke="#1c1c1c" stroke-width="1.25" />
<line x1="425.5" y1="228.5" x2="425.5" y2="233.5" stroke="#1c1c1c" stroke-width="1.25" />
<line x1="445.5" y1="228.5" x2="445.5" y2="233.5" stroke="#1c1c1c" stroke-width="1.25" />
<text transform="translate(407,241.4)" font-size="7.4" text-anchor="middle" font-weight="normal" fill="#1c1c1c"  stroke="#1c1c1c" stroke-width="0.18">UT</text>
<text transform="translate(425.5,241.4)" font-size="7.4" text-anchor="middle" font-weight="normal" fill="#1c1c1c"  stroke="#1c1c1c" stroke-width="0.18">UT</text>
<text transform="translate(445.5,241.4)" font-size="7.4" text-anchor="middle" font-weight="normal" fill="#1c1c1c"  stroke="#1c1c1c" stroke-width="0.18">ADA2</text>
<line x1="399.5" y1="244.4" x2="414.5" y2="244.4" stroke="#1c1c1c" stroke-width="1.25" />
<line x1="422" y1="244.4" x2="455" y2="244.4" stroke="#1c1c1c" stroke-width="1.25" />
<text transform="translate(406.8,254.4)" font-size="7.4" text-anchor="middle" font-weight="normal" fill="#1c1c1c"  stroke="#1c1c1c" stroke-width="0.18">HDs</text>
<text transform="translate(435.5,254.4)" font-size="7.4" text-anchor="middle" font-weight="normal" fill="#1c1c1c"  stroke="#1c1c1c" stroke-width="0.18">PTs</text>
<text transform="translate(377.36,202.5) rotate(-90)" font-size="6.2" text-anchor="start" font-weight="normal" fill="#1c1c1c"  textLength="29.2" lengthAdjust="spacingAndGlyphs" stroke="#1c1c1c" stroke-width="0.3">TNF (ng/ml)</text>
<line x1="425.5" y1="140.75" x2="449.5" y2="140.75" stroke="#1c1c1c" stroke-width="1.25" />
<circle cx="437.5" cy="136.95" r="0.85" fill="#1c1c1c"/>
<line x1="407.4" y1="213.3" x2="407.4" y2="216.67" stroke="#2a2a2a" stroke-width="1.0" />
<line x1="404.6" y1="213.3" x2="410.2" y2="213.3" stroke="#2a2a2a" stroke-width="1.0" />
<rect x="401.55" y="216.17" width="11.7" height="12.33" fill="#125589"/>
<line x1="425.4" y1="161.1" x2="445.2" y2="200.75" stroke="#1c1c1c" stroke-width="1.25" />
<line x1="425.4" y1="193.92" x2="445.2" y2="201.63" stroke="#1c1c1c" stroke-width="1.25" />
<line x1="425.4" y1="193.92" x2="445.2" y2="200.09" stroke="#1c1c1c" stroke-width="1.25" />
<line x1="425.4" y1="194.58" x2="445.2" y2="217.27" stroke="#1c1c1c" stroke-width="1.25" />
<line x1="425.4" y1="198.55" x2="445.2" y2="203.39" stroke="#1c1c1c" stroke-width="1.25" />
<line x1="425.4" y1="206.47" x2="445.2" y2="224.09" stroke="#1c1c1c" stroke-width="1.25" />
<line x1="425.4" y1="206.47" x2="445.2" y2="208.24" stroke="#1c1c1c" stroke-width="1.25" />
<path d="M445.2 196.46 L448.83 200.09 L445.2 203.72 L441.57 200.09 Z" fill="none" stroke="#c51f37" stroke-width="1.1"/>
<circle cx="425.4" cy="194.58" r="2.5" fill="none" stroke="#125589" stroke-width="1.1"/>
<circle cx="445.2" cy="217.27" r="2.7" fill="none" stroke="#c51f37" stroke-width="1.1"/>
<path d="M425.4 200.75 L427.6 196.83 L423.19 196.83 Z" fill="none" stroke="#125589" stroke-width="1.1" stroke-linejoin="miter"/>
<path d="M445.2 205.91 L447.71 201.43 L442.69 201.43 Z" fill="none" stroke="#c51f37" stroke-width="1.1" stroke-linejoin="miter"/>
<rect x="422.82" y="203.89" width="5.16" height="5.16" fill="none" stroke="#125589" stroke-width="1.1"/>
<rect x="442.6" y="221.49" width="5.2" height="5.2" fill="none" stroke="#c51f37" stroke-width="1.1"/>
<path d="M425.4 204.39 L427.48 208.1 L423.32 208.1 Z" fill="none" stroke="#125589" stroke-width="1.1" stroke-linejoin="miter"/>
<path d="M445.2 205.27 L448.16 210.55 L442.24 210.55 Z" fill="none" stroke="#c51f37" stroke-width="1.1" stroke-linejoin="miter"/>
<circle cx="425.4" cy="161.1" r="2.4" fill="none" stroke="#125589" stroke-width="1.1"/>
<rect x="422.71" y="191.23" width="5.38" height="5.38" fill="none" stroke="#125589" stroke-width="1.1"/>
<text transform="translate(7.2,281.8)" font-size="9.7" text-anchor="start" font-weight="bold" fill="#000"  stroke="#000" stroke-width="0.25">E</text>
<text transform="translate(108.5,280)" font-size="6.6" text-anchor="middle" font-weight="normal" fill="#1c1c1c"  stroke="#1c1c1c" stroke-width="0.18">ADA2<tspan font-size="4.0" dy="-2.6" fill="#1c1c1c" stroke="#1c1c1c" stroke-width="0.08">-/-</tspan></text>
<line x1="75.1" y1="282.3" x2="145.1" y2="282.3" stroke="#1c1c1c" stroke-width="1.25" />
<text transform="translate(50.7,319) rotate(-45)" font-size="7.3" text-anchor="start" font-weight="normal" fill="#1c1c1c"  stroke="#1c1c1c" stroke-width="0.18">ADA2<tspan font-size="5.0" dy="-2.9" fill="#1c1c1c" stroke="#1c1c1c" stroke-width="0.08">+/+</tspan></text>
<text transform="translate(74.4,320.4) rotate(-45)" font-size="7.3" text-anchor="start" font-weight="normal" fill="#1c1c1c"  stroke="#1c1c1c" stroke-width="0.18">UT</text>
<text transform="translate(96.6,319.3) rotate(-45)" font-size="7.3" text-anchor="start" font-weight="normal" fill="#1c1c1c"  stroke="#1c1c1c" stroke-width="0.18">LV-ADA2<tspan font-size="5.0" dy="-2.9" fill="#1c1c1c" stroke="#1c1c1c" stroke-width="0.08">WT</tspan></text>
<text transform="translate(122.3,319.3) rotate(-45)" font-size="7.3" text-anchor="start" font-weight="normal" fill="#1c1c1c"  stroke="#1c1c1c" stroke-width="0.18">LV-ADA2<tspan font-size="4.7" dy="-2.9" fill="#1c1c1c" stroke="#1c1c1c" stroke-width="0.08">L188P</tspan></text>
<clipPath id="c13"><rect x="41.6" y="323.2" width="104" height="18.4"/></clipPath>
<linearGradient id="g13" x1="0" y1="0" x2="0" y2="1"><stop offset="0" stop-color="#f0f0f0"/><stop offset="0.5" stop-color="#f6f6f6"/><stop offset="1" stop-color="#f2f2f2"/></linearGradient>
<rect x="41.6" y="323.2" width="104" height="18.4" fill="url(#g13)"/>
<g clip-path="url(#c13)">
<rect x="47" y="333.4" width="19.5" height="2.4" rx="1.2" fill="#000" opacity="0.2" filter="url(#b1)" transform="rotate(0 56.75 334.6)"/>
<rect x="94" y="332.8" width="20" height="5.6" rx="2.4" fill="#000" opacity="1" filter="url(#b1)" transform="rotate(0 104 335.6)"/>
<rect x="94.8" y="334.06" width="18.4" height="3.08" rx="1.54" fill="#000" opacity="0.8" filter="url(#b0)" transform="rotate(0 104 335.6)"/>
<rect x="95" y="328.2" width="7.5" height="6" rx="2.4" fill="#000" opacity="0.95" filter="url(#b1)" transform="rotate(0 98.75 331.2)"/>
<rect x="95.8" y="329.55" width="5.9" height="3.3" rx="1.65" fill="#000" opacity="0.76" filter="url(#b0)" transform="rotate(0 98.75 331.2)"/>
<rect x="104.5" y="327.3" width="7.5" height="7" rx="2.4" fill="#000" opacity="0.95" filter="url(#b1)" transform="rotate(0 108.25 330.8)"/>
<rect x="105.3" y="328.88" width="5.9" height="3.85" rx="1.93" fill="#000" opacity="0.76" filter="url(#b0)" transform="rotate(0 108.25 330.8)"/>
<rect x="97" y="330.6" width="13.5" height="4" rx="2" fill="#000" opacity="0.9" filter="url(#b1)" transform="rotate(0 103.75 332.6)"/>
<rect x="97.8" y="331.5" width="11.9" height="2.2" rx="1.1" fill="#000" opacity="0.72" filter="url(#b0)" transform="rotate(0 103.75 332.6)"/>
<rect x="117" y="335" width="21.5" height="3.8" rx="1.9" fill="#000" opacity="1" filter="url(#b1)" transform="rotate(0 127.75 336.9)"/>
<rect x="117.8" y="335.85" width="19.9" height="2.09" rx="1.04" fill="#000" opacity="0.8" filter="url(#b0)" transform="rotate(0 127.75 336.9)"/>
<rect x="118.5" y="332.1" width="18.5" height="3.4" rx="1.7" fill="#000" opacity="0.22" filter="url(#b2)" transform="rotate(0 127.75 333.8)"/>
</g>
<rect x="41.6" y="323.2" width="104" height="18.4" fill="none" stroke="#151515" stroke-width="1.0"/>
<clipPath id="c14"><rect x="41.6" y="346.1" width="104" height="17.9"/></clipPath>
<linearGradient id="g14" x1="0" y1="0" x2="0" y2="1"><stop offset="0" stop-color="#dedede"/><stop offset="0.5" stop-color="#e8e8e8"/><stop offset="1" stop-color="#e2e2e2"/></linearGradient>
<rect x="41.6" y="346.1" width="104" height="17.9" fill="url(#g14)"/>
<g clip-path="url(#c14)">
<rect x="45.5" y="352.8" width="22" height="3.6" rx="1.8" fill="#000" opacity="0.9" filter="url(#b1)" transform="rotate(0 56.5 354.6)"/>
<rect x="46.3" y="353.61" width="20.4" height="1.98" rx="0.99" fill="#000" opacity="0.72" filter="url(#b0)" transform="rotate(0 56.5 354.6)"/>
<rect x="70.5" y="353.5" width="19.5" height="3.8" rx="1.9" fill="#000" opacity="0.95" filter="url(#b1)" transform="rotate(0 80.25 355.4)"/>
<rect x="71.3" y="354.35" width="17.9" height="2.09" rx="1.04" fill="#000" opacity="0.76" filter="url(#b0)" transform="rotate(0 80.25 355.4)"/>
<rect x="93.5" y="353.7" width="19.5" height="3.4" rx="1.7" fill="#000" opacity="0.85" filter="url(#b1)" transform="rotate(0 103.25 355.4)"/>
<rect x="94.3" y="354.46" width="17.9" height="1.87" rx="0.94" fill="#000" opacity="0.68" filter="url(#b0)" transform="rotate(0 103.25 355.4)"/>
<rect x="115.5" y="353.4" width="28.5" height="4.4" rx="2.2" fill="#000" opacity="0.95" filter="url(#b1)" transform="rotate(0 129.75 355.6)"/>
<rect x="116.3" y="354.39" width="26.9" height="2.42" rx="1.21" fill="#000" opacity="0.76" filter="url(#b0)" transform="rotate(0 129.75 355.6)"/>
<rect x="115" y="349.5" width="30" height="7" rx="2.4" fill="#000" opacity="0.16" filter="url(#b2)" transform="rotate(0 130 353)"/>
</g>
<rect x="41.6" y="346.1" width="104" height="17.9" fill="none" stroke="#151515" stroke-width="1.0"/>
<clipPath id="c15"><rect x="41.6" y="368.4" width="104" height="18.4"/></clipPath>
<linearGradient id="g15" x1="0" y1="0" x2="0" y2="1"><stop offset="0" stop-color="#f4f4f4"/><stop offset="0.5" stop-color="#f8f8f8"/><stop offset="1" stop-color="#f4f4f4"/></linearGradient>
<rect x="41.6" y="368.4" width="104" height="18.4" fill="url(#g15)"/>
<g clip-path="url(#c15)">
<rect x="48.5" y="372.7" width="19.5" height="2.2" rx="1.1" fill="#000" opacity="0.16" filter="url(#b1)" transform="rotate(2.94 58.25 373.8)"/>
<rect x="94.5" y="372.1" width="20.5" height="9" rx="2.4" fill="#000" opacity="1" filter="url(#b1)" transform="rotate(0 104.75 376.6)"/>
<rect x="95.3" y="374.12" width="18.9" height="4.95" rx="2" fill="#000" opacity="0.8" filter="url(#b0)" transform="rotate(0 104.75 376.6)"/>
<rect x="117.5" y="372.7" width="18.5" height="6.4" rx="2.4" fill="#000" opacity="1" filter="url(#b1)" transform="rotate(0 126.75 375.9)"/>
<rect x="118.3" y="374.14" width="16.9" height="3.52" rx="1.76" fill="#000" opacity="0.8" filter="url(#b0)" transform="rotate(0 126.75 375.9)"/>
</g>
<rect x="41.6" y="368.4" width="104" height="18.4" fill="none" stroke="#151515" stroke-width="1.0"/>
<line x1="38.75" y1="323" x2="38.75" y2="364.2" stroke="#1c1c1c" stroke-width="1.25" />
<line x1="38.75" y1="368.2" x2="38.75" y2="387" stroke="#1c1c1c" stroke-width="1.25" />
<text transform="translate(19.6,345.9)" font-size="6.8" text-anchor="start" font-weight="normal" fill="#1c1c1c"  stroke="#1c1c1c" stroke-width="0.08">Lys</text>
<text transform="translate(17.4,379.6)" font-size="6.8" text-anchor="start" font-weight="normal" fill="#1c1c1c"  stroke="#1c1c1c" stroke-width="0.08">Sup</text>
<line x1="146" y1="333.3" x2="149" y2="333.3" stroke="#1c1c1c" stroke-width="1.25" />
<text transform="translate(152.8,335.9)" font-size="7.2" text-anchor="start" font-weight="normal" fill="#1c1c1c"  stroke="#1c1c1c" stroke-width="0.08">ADA2</text>
<line x1="146" y1="354.3" x2="149" y2="354.3" stroke="#1c1c1c" stroke-width="1.25" />
<text transform="translate(152.8,356.9)" font-size="7.2" text-anchor="start" font-weight="normal" fill="#333"  stroke="#333" stroke-width="0.08">β-actin</text>
<line x1="146" y1="376" x2="149" y2="376" stroke="#1c1c1c" stroke-width="1.25" />
<text transform="translate(152.8,378.6)" font-size="7.2" text-anchor="start" font-weight="normal" fill="#1c1c1c"  stroke="#1c1c1c" stroke-width="0.08">ADA2</text>
<text transform="translate(189.9,281.8)" font-size="9.7" text-anchor="start" font-weight="bold" fill="#000"  stroke="#000" stroke-width="0.25">F</text>
<line x1="222.9" y1="282.18" x2="222.9" y2="370.02" stroke="#1c1c1c" stroke-width="1.25" />
<line x1="219" y1="369.4" x2="314.25" y2="369.4" stroke="#1c1c1c" stroke-width="1.25" />
<line x1="219.3" y1="369.4" x2="222.9" y2="369.4" stroke="#1c1c1c" stroke-width="1.25" />
<text transform="translate(218.4,372.2)" font-size="7.9" text-anchor="end" font-weight="normal" fill="#1c1c1c"  stroke="#1c1c1c" stroke-width="0.18">0</text>
<line x1="219.3" y1="347.75" x2="222.9" y2="347.75" stroke="#1c1c1c" stroke-width="1.25" />
<text transform="translate(218.4,350.55)" font-size="7.9" text-anchor="end" font-weight="normal" fill="#1c1c1c"  stroke="#1c1c1c" stroke-width="0.18">5</text>
<line x1="219.3" y1="326.1" x2="222.9" y2="326.1" stroke="#1c1c1c" stroke-width="1.25" />
<text transform="translate(218.4,328.9)" font-size="7.9" text-anchor="end" font-weight="normal" fill="#1c1c1c"  stroke="#1c1c1c" stroke-width="0.18">10</text>
<line x1="219.3" y1="304.45" x2="222.9" y2="304.45" stroke="#1c1c1c" stroke-width="1.25" />
<text transform="translate(218.4,307.25)" font-size="7.9" text-anchor="end" font-weight="normal" fill="#1c1c1c"  stroke="#1c1c1c" stroke-width="0.18">15</text>
<line x1="219.3" y1="282.8" x2="222.9" y2="282.8" stroke="#1c1c1c" stroke-width="1.25" />
<text transform="translate(218.4,285.6)" font-size="7.9" text-anchor="end" font-weight="normal" fill="#1c1c1c"  stroke="#1c1c1c" stroke-width="0.18">20</text>
<line x1="242.5" y1="369.4" x2="242.5" y2="372.7" stroke="#1c1c1c" stroke-width="1.25" />
<line x1="269.2" y1="369.4" x2="269.2" y2="372.7" stroke="#1c1c1c" stroke-width="1.25" />
<line x1="295.6" y1="369.4" x2="295.6" y2="372.7" stroke="#1c1c1c" stroke-width="1.25" />
<line x1="237.2" y1="354.89" x2="237.2" y2="358.86" stroke="#2a2a2a" stroke-width="1.0" />
<line x1="234.4" y1="354.89" x2="240" y2="354.89" stroke="#2a2a2a" stroke-width="1.0" />
<rect x="229.9" y="358.36" width="14.6" height="11.04" fill="#c51f37"/>
<line x1="259.4" y1="366.8" x2="259.4" y2="368.6" stroke="#2a2a2a" stroke-width="1.0" />
<line x1="256.6" y1="366.8" x2="262.2" y2="366.8" stroke="#2a2a2a" stroke-width="1.0" />
<rect x="252.1" y="368.1" width="14.6" height="1.3" fill="#125589"/>
<line x1="281.4" y1="284.1" x2="281.4" y2="305.82" stroke="#2a2a2a" stroke-width="1.0" />
<line x1="278.6" y1="284.1" x2="284.2" y2="284.1" stroke="#2a2a2a" stroke-width="1.0" />
<rect x="274.1" y="305.32" width="14.6" height="64.08" fill="#3bb34a"/>
<line x1="303.4" y1="365.07" x2="303.4" y2="367.73" stroke="#2a2a2a" stroke-width="1.0" />
<line x1="300.6" y1="365.07" x2="306.2" y2="365.07" stroke="#2a2a2a" stroke-width="1.0" />
<rect x="296.1" y="367.23" width="14.6" height="2.17" fill="#f7931e"/>
<line x1="219" y1="369.4" x2="314.25" y2="369.4" stroke="#1c1c1c" stroke-width="1.25" />
<text transform="translate(223,394.9) rotate(-45)" font-size="7.8" text-anchor="start" font-weight="normal" fill="#1c1c1c"  stroke="#1c1c1c" stroke-width="0.18">ADA2<tspan font-size="5.0" dy="-3.0" fill="#1c1c1c" stroke="#1c1c1c" stroke-width="0.08">+/+</tspan></text>
<text transform="translate(254.8,382.8) rotate(-45)" font-size="7.8" text-anchor="start" font-weight="normal" fill="#1c1c1c"  stroke="#1c1c1c" stroke-width="0.18">UT</text>
<text transform="translate(258.4,402.6) rotate(-45)" font-size="7.8" text-anchor="start" font-weight="normal" fill="#1c1c1c"  stroke="#1c1c1c" stroke-width="0.18">LV-ADA2<tspan font-size="5.0" dy="-3.0" fill="#1c1c1c" stroke="#1c1c1c" stroke-width="0.08">WT</tspan></text>
<text transform="translate(275.3,407.6) rotate(-45)" font-size="7.8" text-anchor="start" font-weight="normal" fill="#1c1c1c"  stroke="#1c1c1c" stroke-width="0.18">LV-ADA2<tspan font-size="4.4" dy="-3.0" fill="#1c1c1c" stroke="#1c1c1c" stroke-width="0.08">L188P</tspan></text>
<text transform="translate(204.56,349.95) rotate(-90)" font-size="6.2" text-anchor="start" font-weight="normal" fill="#1c1c1c"  textLength="47.7" lengthAdjust="spacingAndGlyphs" stroke="#1c1c1c" stroke-width="0.3">ADA2 activity (U/L)</text>
<line x1="253.1" y1="410.5" x2="297.8" y2="410.5" stroke="#1c1c1c" stroke-width="1.25" />
<text transform="translate(274.25,417.96)" font-size="6.6" text-anchor="middle" font-weight="normal" fill="#1c1c1c"  stroke="#1c1c1c" stroke-width="0.18">ADA2<tspan font-size="4.092" dy="-2.376" fill="#1c1c1c" stroke="#1c1c1c" stroke-width="0.08">-/-</tspan></text>
<text transform="translate(7.2,436)" font-size="9.7" text-anchor="start" font-weight="bold" fill="#000"  stroke="#000" stroke-width="0.25">G</text>
<line x1="36.75" y1="441.38" x2="36.75" y2="526.73" stroke="#1c1c1c" stroke-width="1.25" />
<line x1="33" y1="526.1" x2="130.3" y2="526.1" stroke="#1c1c1c" stroke-width="1.25" />
<line x1="33.15" y1="526.1" x2="36.75" y2="526.1" stroke="#1c1c1c" stroke-width="1.25" />
<text transform="translate(31.75,528.9)" font-size="7.9" text-anchor="end" font-weight="normal" fill="#1c1c1c"  stroke="#1c1c1c" stroke-width="0.18">0</text>
<line x1="33.15" y1="509.28" x2="36.75" y2="509.28" stroke="#1c1c1c" stroke-width="1.25" />
<text transform="translate(31.75,512.08)" font-size="7.9" text-anchor="end" font-weight="normal" fill="#1c1c1c"  stroke="#1c1c1c" stroke-width="0.18">5</text>
<line x1="33.15" y1="492.46" x2="36.75" y2="492.46" stroke="#1c1c1c" stroke-width="1.25" />
<text transform="translate(31.75,495.26)" font-size="7.9" text-anchor="end" font-weight="normal" fill="#1c1c1c"  stroke="#1c1c1c" stroke-width="0.18">10</text>
<line x1="33.15" y1="475.64" x2="36.75" y2="475.64" stroke="#1c1c1c" stroke-width="1.25" />
<text transform="translate(31.75,478.44)" font-size="7.9" text-anchor="end" font-weight="normal" fill="#1c1c1c"  stroke="#1c1c1c" stroke-width="0.18">15</text>
<line x1="33.15" y1="458.82" x2="36.75" y2="458.82" stroke="#1c1c1c" stroke-width="1.25" />
<text transform="translate(31.75,461.62)" font-size="7.9" text-anchor="end" font-weight="normal" fill="#1c1c1c"  stroke="#1c1c1c" stroke-width="0.18">20</text>
<line x1="33.15" y1="442" x2="36.75" y2="442" stroke="#1c1c1c" stroke-width="1.25" />
<text transform="translate(31.75,444.8)" font-size="7.9" text-anchor="end" font-weight="normal" fill="#1c1c1c"  stroke="#1c1c1c" stroke-width="0.18">25</text>
<rect x="43.3" y="522.74" width="14.2" height="3.36" fill="#c51f37"/>
<line x1="72.2" y1="458.48" x2="72.2" y2="469.41" stroke="#2a2a2a" stroke-width="1.0" />
<line x1="69.4" y1="458.48" x2="75" y2="458.48" stroke="#2a2a2a" stroke-width="1.0" />
<rect x="65.1" y="468.91" width="14.2" height="57.19" fill="#125589"/>
<line x1="93.9" y1="504.23" x2="93.9" y2="507.43" stroke="#2a2a2a" stroke-width="1.0" />
<line x1="91.1" y1="504.23" x2="96.7" y2="504.23" stroke="#2a2a2a" stroke-width="1.0" />
<rect x="86.8" y="506.93" width="14.2" height="19.17" fill="#3bb34a"/>
<line x1="115.1" y1="455.12" x2="115.1" y2="468.4" stroke="#2a2a2a" stroke-width="1.0" />
<line x1="112.3" y1="455.12" x2="117.9" y2="455.12" stroke="#2a2a2a" stroke-width="1.0" />
<rect x="108" y="467.9" width="14.2" height="58.2" fill="#f7931e"/>
<line x1="33" y1="526.1" x2="130.3" y2="526.1" stroke="#1c1c1c" stroke-width="1.25" />
<text transform="translate(34.5,553.7) rotate(-45)" font-size="7.8" text-anchor="start" font-weight="normal" fill="#1c1c1c"  stroke="#1c1c1c" stroke-width="0.18">ADA2<tspan font-size="5.0" dy="-3.0" fill="#1c1c1c" stroke="#1c1c1c" stroke-width="0.08">+/+</tspan></text>
<text transform="translate(67.8,543.9) rotate(-45)" font-size="7.8" text-anchor="start" font-weight="normal" fill="#1c1c1c"  stroke="#1c1c1c" stroke-width="0.18">UT</text>
<text transform="translate(70.2,563.1) rotate(-45)" font-size="7.8" text-anchor="start" font-weight="normal" fill="#1c1c1c"  stroke="#1c1c1c" stroke-width="0.18">LV-ADA2<tspan font-size="5.0" dy="-3.0" fill="#1c1c1c" stroke="#1c1c1c" stroke-width="0.08">WT</tspan></text>
<text transform="translate(90.2,567.3) rotate(-45)" font-size="7.8" text-anchor="start" font-weight="normal" fill="#1c1c1c"  stroke="#1c1c1c" stroke-width="0.18">LV-ADA2<tspan font-size="4.4" dy="-3.0" fill="#1c1c1c" stroke="#1c1c1c" stroke-width="0.08">L188P</tspan></text>
<text transform="translate(18.64,511.25) rotate(-90)" font-size="7.8" text-anchor="start" font-weight="normal" fill="#1c1c1c"  textLength="46.1" lengthAdjust="spacingAndGlyphs" stroke="#1c1c1c" stroke-width="0.3">IL6 (Rel. to WT)</text>
<line x1="66.1" y1="569.3" x2="123.1" y2="569.3" stroke="#1c1c1c" stroke-width="1.25" />
<text transform="translate(94.6,579.24)" font-size="8.8" text-anchor="middle" font-weight="normal" fill="#1c1c1c"  stroke="#1c1c1c" stroke-width="0.18">ADA2<tspan font-size="5.456" dy="-3.168" fill="#1c1c1c" stroke="#1c1c1c" stroke-width="0.08">-/-</tspan></text>
<line x1="72.5" y1="443.75" x2="92.5" y2="443.75" stroke="#1c1c1c" stroke-width="1.25" />
<circle cx="80.8" cy="438.75" r="0.85" fill="#1c1c1c"/>
<circle cx="84.2" cy="438.75" r="0.85" fill="#1c1c1c"/>
<line x1="96.25" y1="443.75" x2="116.25" y2="443.75" stroke="#1c1c1c" stroke-width="1.25" />
<circle cx="104.55" cy="438.75" r="0.85" fill="#1c1c1c"/>
<circle cx="107.95" cy="438.75" r="0.85" fill="#1c1c1c"/>
<line x1="159.8" y1="440.68" x2="159.8" y2="527.52" stroke="#1c1c1c" stroke-width="1.25" />
<line x1="156" y1="526.9" x2="254.2" y2="526.9" stroke="#1c1c1c" stroke-width="1.25" />
<line x1="156.2" y1="526.9" x2="159.8" y2="526.9" stroke="#1c1c1c" stroke-width="1.25" />
<text transform="translate(155,529.7)" font-size="7.9" text-anchor="end" font-weight="normal" fill="#1c1c1c"  stroke="#1c1c1c" stroke-width="0.18">0</text>
<line x1="156.2" y1="509.78" x2="159.8" y2="509.78" stroke="#1c1c1c" stroke-width="1.25" />
<text transform="translate(155,512.58)" font-size="7.9" text-anchor="end" font-weight="normal" fill="#1c1c1c"  stroke="#1c1c1c" stroke-width="0.18">2</text>
<line x1="156.2" y1="492.66" x2="159.8" y2="492.66" stroke="#1c1c1c" stroke-width="1.25" />
<text transform="translate(155,495.46)" font-size="7.9" text-anchor="end" font-weight="normal" fill="#1c1c1c"  stroke="#1c1c1c" stroke-width="0.18">4</text>
<line x1="156.2" y1="475.54" x2="159.8" y2="475.54" stroke="#1c1c1c" stroke-width="1.25" />
<text transform="translate(155,478.34)" font-size="7.9" text-anchor="end" font-weight="normal" fill="#1c1c1c"  stroke="#1c1c1c" stroke-width="0.18">6</text>
<line x1="156.2" y1="458.42" x2="159.8" y2="458.42" stroke="#1c1c1c" stroke-width="1.25" />
<text transform="translate(155,461.22)" font-size="7.9" text-anchor="end" font-weight="normal" fill="#1c1c1c"  stroke="#1c1c1c" stroke-width="0.18">8</text>
<line x1="156.2" y1="441.3" x2="159.8" y2="441.3" stroke="#1c1c1c" stroke-width="1.25" />
<text transform="translate(155,444.1)" font-size="7.9" text-anchor="end" font-weight="normal" fill="#1c1c1c"  stroke="#1c1c1c" stroke-width="0.18">10</text>
<rect x="166.9" y="518.34" width="14.2" height="8.56" fill="#c51f37"/>
<line x1="195.9" y1="457.56" x2="195.9" y2="480.32" stroke="#2a2a2a" stroke-width="1.0" />
<line x1="193.1" y1="457.56" x2="198.7" y2="457.56" stroke="#2a2a2a" stroke-width="1.0" />
<rect x="188.8" y="479.82" width="14.2" height="47.08" fill="#125589"/>
<line x1="217.5" y1="504.22" x2="217.5" y2="510.28" stroke="#2a2a2a" stroke-width="1.0" />
<line x1="214.7" y1="504.22" x2="220.3" y2="504.22" stroke="#2a2a2a" stroke-width="1.0" />
<rect x="210.4" y="509.78" width="14.2" height="17.12" fill="#3bb34a"/>
<line x1="239.1" y1="459.28" x2="239.1" y2="480.32" stroke="#2a2a2a" stroke-width="1.0" />
<line x1="236.3" y1="459.28" x2="241.9" y2="459.28" stroke="#2a2a2a" stroke-width="1.0" />
<rect x="232" y="479.82" width="14.2" height="47.08" fill="#f7931e"/>
<line x1="156" y1="526.9" x2="254.2" y2="526.9" stroke="#1c1c1c" stroke-width="1.25" />
<text transform="translate(159.5,554.5) rotate(-45)" font-size="7.8" text-anchor="start" font-weight="normal" fill="#1c1c1c"  stroke="#1c1c1c" stroke-width="0.18">ADA2<tspan font-size="5.0" dy="-3.0" fill="#1c1c1c" stroke="#1c1c1c" stroke-width="0.08">+/+</tspan></text>
<text transform="translate(192.9,544.7) rotate(-45)" font-size="7.8" text-anchor="start" font-weight="normal" fill="#1c1c1c"  stroke="#1c1c1c" stroke-width="0.18">UT</text>
<text transform="translate(195.2,563.9) rotate(-45)" font-size="7.8" text-anchor="start" font-weight="normal" fill="#1c1c1c"  stroke="#1c1c1c" stroke-width="0.18">LV-ADA2<tspan font-size="5.0" dy="-3.0" fill="#1c1c1c" stroke="#1c1c1c" stroke-width="0.08">WT</tspan></text>
<text transform="translate(215.6,568.1) rotate(-45)" font-size="7.8" text-anchor="start" font-weight="normal" fill="#1c1c1c"  stroke="#1c1c1c" stroke-width="0.18">LV-ADA2<tspan font-size="4.4" dy="-3.0" fill="#1c1c1c" stroke="#1c1c1c" stroke-width="0.08">L188P</tspan></text>
<text transform="translate(143.54,509.55) rotate(-90)" font-size="7.8" text-anchor="start" font-weight="normal" fill="#1c1c1c"  textLength="48.1" lengthAdjust="spacingAndGlyphs" stroke="#1c1c1c" stroke-width="0.3">TNF (Rel. to WT)</text>
<line x1="190" y1="570.5" x2="246.25" y2="570.5" stroke="#1c1c1c" stroke-width="1.25" />
<text transform="translate(218.12,580.44)" font-size="8.8" text-anchor="middle" font-weight="normal" fill="#1c1c1c"  stroke="#1c1c1c" stroke-width="0.18">ADA2<tspan font-size="5.456" dy="-3.168" fill="#1c1c1c" stroke="#1c1c1c" stroke-width="0.08">-/-</tspan></text>
<line x1="198.75" y1="443.75" x2="218" y2="443.75" stroke="#1c1c1c" stroke-width="1.25" />
<circle cx="206.68" cy="438.75" r="0.85" fill="#1c1c1c"/>
<circle cx="210.07" cy="438.75" r="0.85" fill="#1c1c1c"/>
<line x1="220.5" y1="443.75" x2="240" y2="443.75" stroke="#1c1c1c" stroke-width="1.25" />
<circle cx="228.55" cy="438.75" r="0.85" fill="#1c1c1c"/>
<circle cx="231.95" cy="438.75" r="0.85" fill="#1c1c1c"/>
<text transform="translate(268.2,435.9)" font-size="9.7" text-anchor="start" font-weight="bold" fill="#000"  stroke="#000" stroke-width="0.25">H</text>
<line x1="290.4" y1="441.68" x2="290.4" y2="527.42" stroke="#1c1c1c" stroke-width="1.25" />
<line x1="286.8" y1="526.8" x2="384.8" y2="526.8" stroke="#1c1c1c" stroke-width="1.25" />
<line x1="286.8" y1="526.8" x2="290.4" y2="526.8" stroke="#1c1c1c" stroke-width="1.25" />
<text transform="translate(285.6,529.6)" font-size="7.9" text-anchor="end" font-weight="normal" fill="#1c1c1c"  stroke="#1c1c1c" stroke-width="0.18">0</text>
<line x1="286.8" y1="498.63" x2="290.4" y2="498.63" stroke="#1c1c1c" stroke-width="1.25" />
<text transform="translate(285.6,501.44)" font-size="7.9" text-anchor="end" font-weight="normal" fill="#1c1c1c"  stroke="#1c1c1c" stroke-width="0.18">1</text>
<line x1="286.8" y1="470.47" x2="290.4" y2="470.47" stroke="#1c1c1c" stroke-width="1.25" />
<text transform="translate(285.6,473.27)" font-size="7.9" text-anchor="end" font-weight="normal" fill="#1c1c1c"  stroke="#1c1c1c" stroke-width="0.18">2</text>
<line x1="286.8" y1="442.3" x2="290.4" y2="442.3" stroke="#1c1c1c" stroke-width="1.25" />
<text transform="translate(285.6,445.1)" font-size="7.9" text-anchor="end" font-weight="normal" fill="#1c1c1c"  stroke="#1c1c1c" stroke-width="0.18">3</text>
<line x1="304.85" y1="503.14" x2="304.85" y2="511.24" stroke="#2a2a2a" stroke-width="1.0" />
<line x1="302.05" y1="503.14" x2="307.65" y2="503.14" stroke="#2a2a2a" stroke-width="1.0" />
<rect x="297.75" y="510.74" width="14.2" height="16.06" fill="#c51f37"/>
<line x1="326.45" y1="453.57" x2="326.45" y2="469.56" stroke="#2a2a2a" stroke-width="1.0" />
<line x1="323.65" y1="453.57" x2="329.25" y2="453.57" stroke="#2a2a2a" stroke-width="1.0" />
<rect x="319.35" y="469.06" width="14.2" height="57.74" fill="#125589"/>
<line x1="347.65" y1="502.58" x2="347.65" y2="505.05" stroke="#2a2a2a" stroke-width="1.0" />
<line x1="344.85" y1="502.58" x2="350.45" y2="502.58" stroke="#2a2a2a" stroke-width="1.0" />
<rect x="340.55" y="504.55" width="14.2" height="22.25" fill="#3bb34a"/>
<line x1="369.5" y1="463.14" x2="369.5" y2="475.75" stroke="#2a2a2a" stroke-width="1.0" />
<line x1="366.7" y1="463.14" x2="372.3" y2="463.14" stroke="#2a2a2a" stroke-width="1.0" />
<rect x="362.4" y="475.25" width="14.2" height="51.54" fill="#f7931e"/>
<line x1="286.8" y1="526.8" x2="384.8" y2="526.8" stroke="#1c1c1c" stroke-width="1.25" />
<text transform="translate(289.75,554.4) rotate(-45)" font-size="7.8" text-anchor="start" font-weight="normal" fill="#1c1c1c"  stroke="#1c1c1c" stroke-width="0.18">ADA2<tspan font-size="5.0" dy="-3.0" fill="#1c1c1c" stroke="#1c1c1c" stroke-width="0.08">+/+</tspan></text>
<text transform="translate(322.85,544.6) rotate(-45)" font-size="7.8" text-anchor="start" font-weight="normal" fill="#1c1c1c"  stroke="#1c1c1c" stroke-width="0.18">UT</text>
<text transform="translate(324.75,563.8) rotate(-45)" font-size="7.8" text-anchor="start" font-weight="normal" fill="#1c1c1c"  stroke="#1c1c1c" stroke-width="0.18">LV-ADA2<tspan font-size="5.0" dy="-3.0" fill="#1c1c1c" stroke="#1c1c1c" stroke-width="0.08">WT</tspan></text>
<text transform="translate(345.4,568) rotate(-45)" font-size="7.8" text-anchor="start" font-weight="normal" fill="#1c1c1c"  stroke="#1c1c1c" stroke-width="0.18">LV-ADA2<tspan font-size="4.4" dy="-3.0" fill="#1c1c1c" stroke="#1c1c1c" stroke-width="0.08">L188P</tspan></text>
<text transform="translate(276.84,503) rotate(-90)" font-size="7.8" text-anchor="start" font-weight="normal" fill="#1c1c1c"  textLength="36.2" lengthAdjust="spacingAndGlyphs" stroke="#1c1c1c" stroke-width="0.3">IL-6 (ng/ml)</text>
<line x1="318.75" y1="570.5" x2="375" y2="570.5" stroke="#1c1c1c" stroke-width="1.25" />
<text transform="translate(346.88,580.44)" font-size="8.8" text-anchor="middle" font-weight="normal" fill="#1c1c1c"  stroke="#1c1c1c" stroke-width="0.18">ADA2<tspan font-size="5.456" dy="-3.168" fill="#1c1c1c" stroke="#1c1c1c" stroke-width="0.08">-/-</tspan></text>
<line x1="305" y1="443.75" x2="324.5" y2="443.75" stroke="#1c1c1c" stroke-width="1.25" />
<circle cx="313.05" cy="438.75" r="0.85" fill="#1c1c1c"/>
<circle cx="316.45" cy="438.75" r="0.85" fill="#1c1c1c"/>
<line x1="327.5" y1="443.75" x2="347.5" y2="443.75" stroke="#1c1c1c" stroke-width="1.25" />
<circle cx="335.8" cy="438.75" r="0.85" fill="#1c1c1c"/>
<circle cx="339.2" cy="438.75" r="0.85" fill="#1c1c1c"/>
<line x1="350.5" y1="443.75" x2="370.5" y2="443.75" stroke="#1c1c1c" stroke-width="1.25" />
<circle cx="358.8" cy="438.75" r="0.85" fill="#1c1c1c"/>
<circle cx="362.2" cy="438.75" r="0.85" fill="#1c1c1c"/>
<line x1="417.8" y1="442.18" x2="417.8" y2="527.92" stroke="#1c1c1c" stroke-width="1.25" />
<line x1="414" y1="527.3" x2="511.9" y2="527.3" stroke="#1c1c1c" stroke-width="1.25" />
<line x1="414.2" y1="527.3" x2="417.8" y2="527.3" stroke="#1c1c1c" stroke-width="1.25" />
<text transform="translate(413.8,530.1)" font-size="7.9" text-anchor="end" font-weight="normal" fill="#1c1c1c"  stroke="#1c1c1c" stroke-width="0.18">0</text>
<line x1="414.2" y1="506.17" x2="417.8" y2="506.17" stroke="#1c1c1c" stroke-width="1.25" />
<text transform="translate(413.8,508.98)" font-size="7.9" text-anchor="end" font-weight="normal" fill="#1c1c1c"  stroke="#1c1c1c" stroke-width="0.18">2</text>
<line x1="414.2" y1="485.05" x2="417.8" y2="485.05" stroke="#1c1c1c" stroke-width="1.25" />
<text transform="translate(413.8,487.85)" font-size="7.9" text-anchor="end" font-weight="normal" fill="#1c1c1c"  stroke="#1c1c1c" stroke-width="0.18">4</text>
<line x1="414.2" y1="463.93" x2="417.8" y2="463.93" stroke="#1c1c1c" stroke-width="1.25" />
<text transform="translate(413.8,466.73)" font-size="7.9" text-anchor="end" font-weight="normal" fill="#1c1c1c"  stroke="#1c1c1c" stroke-width="0.18">6</text>
<line x1="414.2" y1="442.8" x2="417.8" y2="442.8" stroke="#1c1c1c" stroke-width="1.25" />
<text transform="translate(413.8,445.6)" font-size="7.9" text-anchor="end" font-weight="normal" fill="#1c1c1c"  stroke="#1c1c1c" stroke-width="0.18">8</text>
<line x1="432.1" y1="481.35" x2="432.1" y2="498.75" stroke="#2a2a2a" stroke-width="1.0" />
<line x1="429.3" y1="481.35" x2="434.9" y2="481.35" stroke="#2a2a2a" stroke-width="1.0" />
<rect x="425" y="498.25" width="14.2" height="29.05" fill="#c51f37"/>
<line x1="453.8" y1="451.25" x2="453.8" y2="470.23" stroke="#2a2a2a" stroke-width="1.0" />
<line x1="451" y1="451.25" x2="456.6" y2="451.25" stroke="#2a2a2a" stroke-width="1.0" />
<rect x="446.7" y="469.73" width="14.2" height="57.57" fill="#125589"/>
<line x1="475.1" y1="488.22" x2="475.1" y2="503.51" stroke="#2a2a2a" stroke-width="1.0" />
<line x1="472.3" y1="488.22" x2="477.9" y2="488.22" stroke="#2a2a2a" stroke-width="1.0" />
<rect x="468" y="503.01" width="14.2" height="24.29" fill="#3bb34a"/>
<line x1="497.1" y1="449.67" x2="497.1" y2="474.46" stroke="#2a2a2a" stroke-width="1.0" />
<line x1="494.3" y1="449.67" x2="499.9" y2="449.67" stroke="#2a2a2a" stroke-width="1.0" />
<rect x="490" y="473.96" width="14.2" height="53.34" fill="#f7931e"/>
<line x1="414" y1="527.3" x2="511.9" y2="527.3" stroke="#1c1c1c" stroke-width="1.25" />
<text transform="translate(417.1,554.9) rotate(-45)" font-size="7.8" text-anchor="start" font-weight="normal" fill="#1c1c1c"  stroke="#1c1c1c" stroke-width="0.18">ADA2<tspan font-size="5.0" dy="-3.0" fill="#1c1c1c" stroke="#1c1c1c" stroke-width="0.08">+/+</tspan></text>
<text transform="translate(450.3,545.1) rotate(-45)" font-size="7.8" text-anchor="start" font-weight="normal" fill="#1c1c1c"  stroke="#1c1c1c" stroke-width="0.18">UT</text>
<text transform="translate(452.3,564.3) rotate(-45)" font-size="7.8" text-anchor="start" font-weight="normal" fill="#1c1c1c"  stroke="#1c1c1c" stroke-width="0.18">LV-ADA2<tspan font-size="5.0" dy="-3.0" fill="#1c1c1c" stroke="#1c1c1c" stroke-width="0.08">WT</tspan></text>
<text transform="translate(473.1,568.5) rotate(-45)" font-size="7.8" text-anchor="start" font-weight="normal" fill="#1c1c1c"  stroke="#1c1c1c" stroke-width="0.18">LV-ADA2<tspan font-size="4.4" dy="-3.0" fill="#1c1c1c" stroke="#1c1c1c" stroke-width="0.08">L188P</tspan></text>
<text transform="translate(403.04,502.95) rotate(-90)" font-size="7.8" text-anchor="start" font-weight="normal" fill="#1c1c1c"  textLength="35.7" lengthAdjust="spacingAndGlyphs" stroke="#1c1c1c" stroke-width="0.3">TNF (ng/ml)</text>
<line x1="448" y1="570.5" x2="504.5" y2="570.5" stroke="#1c1c1c" stroke-width="1.25" />
<text transform="translate(476.25,580.44)" font-size="8.8" text-anchor="middle" font-weight="normal" fill="#1c1c1c"  stroke="#1c1c1c" stroke-width="0.18">ADA2<tspan font-size="5.456" dy="-3.168" fill="#1c1c1c" stroke="#1c1c1c" stroke-width="0.08">-/-</tspan></text>
<line x1="432.5" y1="443.75" x2="452" y2="443.75" stroke="#1c1c1c" stroke-width="1.25" />
<circle cx="442.25" cy="438.75" r="0.85" fill="#1c1c1c"/>
<line x1="455" y1="443.75" x2="474.5" y2="443.75" stroke="#1c1c1c" stroke-width="1.25" />
<circle cx="464.75" cy="438.75" r="0.85" fill="#1c1c1c"/>
<line x1="477.5" y1="443.75" x2="497.5" y2="443.75" stroke="#1c1c1c" stroke-width="1.25" />
<circle cx="487.5" cy="438.75" r="0.85" fill="#1c1c1c"/>
<rect x="0.75" y="0.75" width="518.5" height="598.5" fill="none" stroke="#000" stroke-width="1.5"/>
</svg>
</body>
</html>
